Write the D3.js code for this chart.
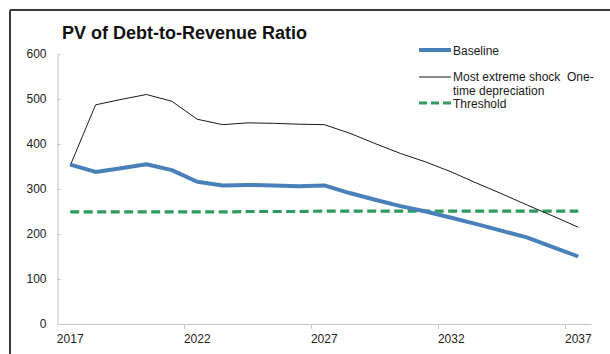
<!DOCTYPE html>
<html>
<head>
<meta charset="utf-8">
<script src="https://cdn.jsdelivr.net/npm/d3@7/dist/d3.min.js"></script>
<style>
  html, body { margin: 0; padding: 0; background: #fff; }
  svg { display: block; font-family: "Liberation Sans", Arial, sans-serif; }
</style>
</head>
<body>
<svg id="chart" width="610" height="354"></svg>
<script>
// Projection years (category axis)
const years = d3.range(2017, 2038).map(String);
const yearLabels = ["2017", "2022", "2027", "2032", "2037"];

// PV of debt-to-revenue ratio, percent
const baseline = [354, 338, 346, 355, 342, 316, 308, 309, 308, 306, 308,
                  291, 276, 262, 250, 236, 222, 207, 192, 171, 150];
const extremeShock = [352, 487, 499, 510, 495, 455, 443, 447, 446, 444, 443,
                      424, 401, 379, 360, 338, 313, 289, 264, 240, 215];
const threshold = [249, 249, 249, 249, 249, 249, 249, 250, 250, 250, 251,
                   251, 251, 251, 251, 251, 251, 251, 251, 251, 251];

const yTicks = [0, 100, 200, 300, 400, 500, 600];

const svg = d3.select("#chart");

// frame edges
svg.append("line").attr("x1", 10).attr("x2", 610).attr("y1", 10).attr("y2", 10)
  .attr("stroke", "#3a3a3a").attr("stroke-width", 2);
svg.append("line").attr("x1", 10).attr("x2", 10).attr("y1", 10).attr("y2", 354)
  .attr("stroke", "#3a3a3a").attr("stroke-width", 2);

const x = d3.scaleBand().domain(years).range([57.5, 591]).padding(0);
const y = d3.scaleLinear().domain([0, 600]).range([324, 54]);
const cx = d => x(d) + x.bandwidth() / 2;

// title
svg.append("text").attr("x", 62).attr("y", 39)
  .attr("font-size", 18).attr("font-weight", "bold").attr("fill", "#111")
  .text("PV of Debt-to-Revenue Ratio");

// y axis
const yAxis = svg.append("g").attr("transform", "translate(57.5,0)")
  .call(d3.axisLeft(y).tickValues(yTicks).tickSizeInner(-3).tickSizeOuter(0).tickPadding(11));
yAxis.select(".domain").attr("stroke", "#c4c4c4");
yAxis.selectAll(".tick line").attr("stroke", "#c4c4c4");
yAxis.selectAll("text").attr("font-size", 12).attr("fill", "#222")
  .attr("font-family", "Liberation Sans, Arial, sans-serif");

// x axis: labels centred on categories, tick marks on category boundaries
const xAxis = svg.append("g").attr("transform", "translate(0,324)")
  .call(d3.axisBottom(x).tickValues(yearLabels).tickSize(0).tickPadding(10));
xAxis.select(".domain").attr("stroke", "#c4c4c4");
xAxis.selectAll("text").attr("font-size", 12).attr("fill", "#222")
  .attr("font-family", "Liberation Sans, Arial, sans-serif");
xAxis.selectAll(".boundary")
  .data(yearLabels.slice(1))
  .join("line")
  .attr("class", "boundary")
  .attr("x1", d => x(d)).attr("x2", d => x(d))
  .attr("y1", 0).attr("y2", 5)
  .attr("stroke", "#c4c4c4");

// series
const line = d3.line().x((d, i) => cx(years[i])).y(d => y(d));

svg.append("path").datum(threshold)
  .attr("d", line).attr("fill", "none")
  .attr("stroke", "#2e9a5c").attr("stroke-width", 3.2)
  .attr("stroke-dasharray", "9,4.5");

svg.append("path").datum(extremeShock)
  .attr("d", line).attr("fill", "none")
  .attr("stroke", "#1a1a1a").attr("stroke-width", 1);

svg.append("path").datum(baseline)
  .attr("d", line).attr("fill", "none")
  .attr("stroke", "#4a80b9").attr("stroke-width", 4)
  .attr("stroke-linejoin", "round");

// legend
const legend = svg.append("g").attr("font-size", 12).attr("fill", "#1a1a1a");
legend.append("line").attr("x1", 419).attr("x2", 451).attr("y1", 50).attr("y2", 50)
  .attr("stroke", "#4a80b9").attr("stroke-width", 4);
legend.append("text").attr("x", 453).attr("y", 54.5).text("Baseline");

legend.append("line").attr("x1", 419).attr("x2", 451).attr("y1", 77).attr("y2", 77)
  .attr("stroke", "#1a1a1a").attr("stroke-width", 1);
legend.append("text").attr("x", 453).attr("y", 81)
  .attr("xml:space", "preserve").text("Most extreme shock  One-");
legend.append("text").attr("x", 453).attr("y", 95).text("time depreciation");

legend.append("line").attr("x1", 419).attr("x2", 451).attr("y1", 103).attr("y2", 103)
  .attr("stroke", "#2e9a5c").attr("stroke-width", 3.2)
  .attr("stroke-dasharray", "8,4");
legend.append("text").attr("x", 453).attr("y", 107.5).text("Threshold");
</script>
</body>
</html>
